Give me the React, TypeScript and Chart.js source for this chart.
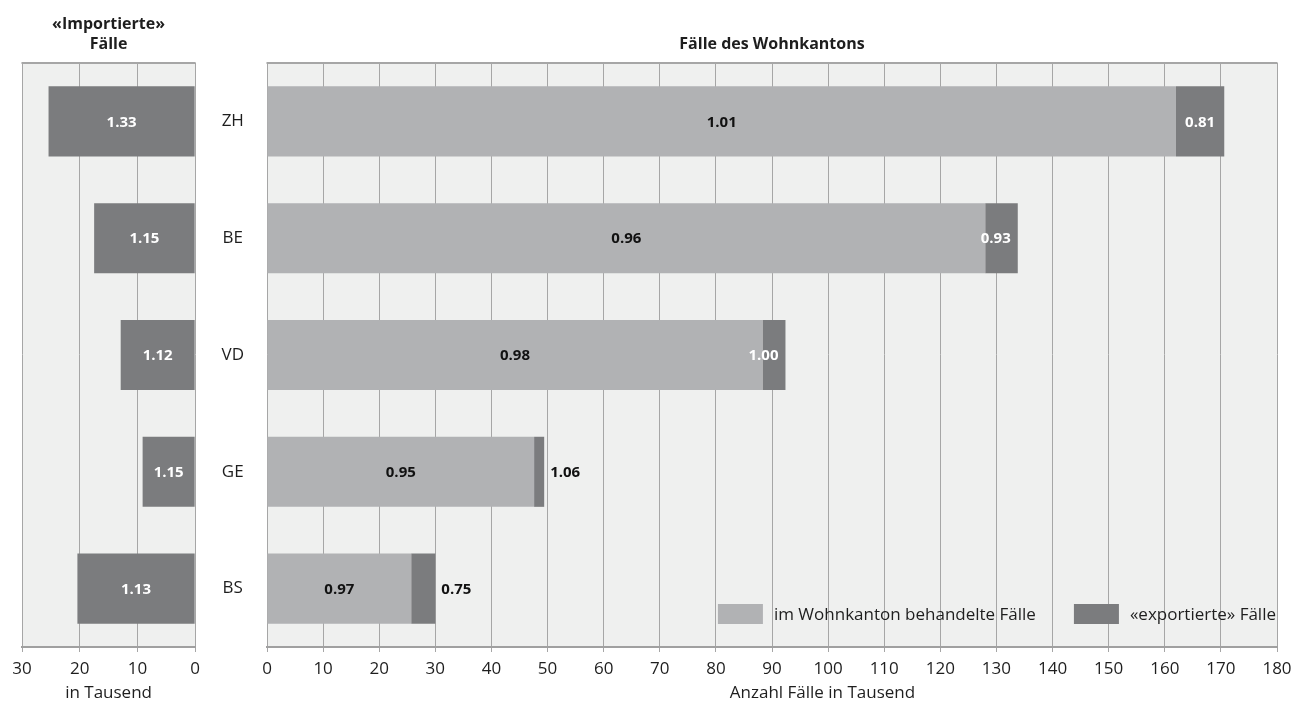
import React, { useEffect, useRef } from 'react';
import { Chart, registerables } from 'chart.js';

Chart.register(...registerables);

// ---- Data ----
const categories = ['ZH', 'BE', 'VD', 'GE', 'BS'];
const importedCases = [25.4, 17.5, 12.9, 9.1, 20.4];
const importedRatios = ['1.33', '1.15', '1.12', '1.15', '1.13'];
const treatedInCanton = [162.0, 128.0, 88.3, 47.6, 25.7];
const treatedRatios = ['1.01', '0.96', '0.98', '0.95', '0.97'];
const exportedCases = [8.6, 5.8, 4.1, 1.8, 4.3];
const exportedRatios = ['0.81', '0.93', '1.00', '1.06', '0.75'];
const seriesLabels = ['im Wohnkanton behandelte Fälle', '«exportierte» Fälle'];
const leftTitle = ['«Importierte»', 'Fälle'];
const rightTitle = 'Fälle des Wohnkantons';
const leftAxisTitle = 'in Tausend';
const rightAxisTitle = 'Anzahl Fälle in Tausend';
const rightAxisTitleAt = 99; // value under which the axis title is centred
const leftMax = 30;
const rightMax = 180;
const tickStep = 10;

// ---- Styles ----
const FONT = '"Open Sans", "DejaVu Sans", sans-serif';
const TEXT = '#1e1e1e';
const BG = '#eff0ef';
const GRID = '#a6a6a6';
const AXIS = '#a0a0a0';
const LIGHT = '#b1b2b4';
const DARK = '#7b7c7e';
const FS = 17;

const framePlugin = {
  id: 'frame',
  beforeDraw(chart: any) {
    const { ctx, chartArea: a } = chart;
    ctx.save();
    ctx.fillStyle = BG;
    ctx.fillRect(a.left, a.top, a.right - a.left, a.bottom - a.top);
    ctx.restore();
  },
  beforeDatasetsDraw(chart: any) {
    const { ctx, chartArea: a } = chart;
    ctx.save();
    ctx.strokeStyle = GRID;
    ctx.lineWidth = 2;
    ctx.beginPath();
    ctx.moveTo(a.left - 0.5, a.top);
    ctx.lineTo(a.right + 0.5, a.top);
    ctx.stroke();
    ctx.restore();
  },
};

const leftLabelsPlugin = {
  id: 'leftLabels',
  afterDatasetsDraw(chart: any) {
    const ctx = chart.ctx;
    ctx.save();
    ctx.font = `bold 15px ${FONT}`;
    ctx.textBaseline = 'middle';
    ctx.textAlign = 'center';
    ctx.fillStyle = '#ffffff';
    chart.getDatasetMeta(0).data.forEach((bar: any, i: number) => {
      const { x, base, y } = bar.getProps(['x', 'base', 'y'], true);
      ctx.fillText(importedRatios[i], (x + base) / 2, y + 1);
    });
    ctx.restore();
  },
};

const rightLabelsPlugin = {
  id: 'rightLabels',
  afterDatasetsDraw(chart: any) {
    const ctx = chart.ctx;
    ctx.save();
    ctx.font = `bold 15px ${FONT}`;
    ctx.textBaseline = 'middle';
    chart.getDatasetMeta(0).data.forEach((bar: any, i: number) => {
      const { x, base, y } = bar.getProps(['x', 'base', 'y'], true);
      ctx.fillStyle = '#111111';
      ctx.textAlign = 'center';
      ctx.fillText(treatedRatios[i], (x + base) / 2, y + 1);
    });
    chart.getDatasetMeta(1).data.forEach((bar: any, i: number) => {
      const { x, base, y } = bar.getProps(['x', 'base', 'y'], true);
      const total = treatedInCanton[i] + exportedCases[i];
      const text = exportedRatios[i];
      const tw = ctx.measureText(text).width;
      if (total >= 60) {
        ctx.fillStyle = '#ffffff';
        ctx.textAlign = 'center';
        ctx.fillText(text, Math.min((x + base) / 2, x - tw / 2 - 7), y + 1);
      } else {
        ctx.fillStyle = '#111111';
        ctx.textAlign = 'left';
        ctx.fillText(text, x + 6, y + 1);
      }
    });
    // legend inside the chart area, bottom right
    const a = chart.chartArea;
    ctx.font = `${FS}px ${FONT}`;
    const cy = a.bottom - 33;
    let xr = a.right - 1;
    const dsets = chart.data.datasets;
    for (let i = dsets.length - 1; i >= 0; i--) {
      const label = dsets[i].label;
      const tw = ctx.measureText(label).width;
      ctx.fillStyle = TEXT;
      ctx.textAlign = 'left';
      ctx.fillText(label, xr - tw, cy + 1);
      const bx = xr - tw - 11 - 45;
      ctx.fillStyle = dsets[i].backgroundColor;
      ctx.fillRect(bx, cy - 10, 45, 20);
      xr = bx - 38;
    }
    ctx.restore();
  },
  afterDraw(chart: any) {
    const ctx = chart.ctx;
    const xs = chart.scales.x;
    ctx.save();
    ctx.font = `${FS}px ${FONT}`;
    ctx.fillStyle = TEXT;
    ctx.textAlign = 'center';
    ctx.textBaseline = 'middle';
    ctx.fillText(rightAxisTitle, xs.getPixelForValue(rightAxisTitleAt), xs.bottom - 4 - (FS * 1.2) / 2);
    ctx.restore();
  },
};

const tickFont = { family: FONT, size: FS };
const titleFont = { family: FONT, size: 16, weight: 'bold' as const, lineHeight: '20px' };

export default function App() {
  const leftRef = useRef<HTMLCanvasElement>(null);
  const rightRef = useRef<HTMLCanvasElement>(null);

  useEffect(() => {
    const left = new Chart(leftRef.current as HTMLCanvasElement, {
      type: 'bar',
      data: {
        labels: categories,
        datasets: [
          {
            label: '«importierte» Fälle',
            data: importedCases,
            backgroundColor: DARK,
            barPercentage: 0.6,
            categoryPercentage: 1,
          },
        ],
      },
      options: {
        indexAxis: 'y',
        animation: false,
        responsive: false,
        maintainAspectRatio: false,
        layout: { padding: { left: 22, right: 5, top: 0, bottom: 0 } },
        plugins: {
          legend: { display: false },
          tooltip: { enabled: false },
          title: {
            display: true,
            fullSize: false,
            text: leftTitle,
            color: TEXT,
            font: titleFont,
            padding: { top: 14, bottom: 9 },
          },
        },
        scales: {
          x: {
            reverse: true,
            min: 0,
            max: leftMax,
            ticks: { stepSize: tickStep, color: TEXT, font: tickFont, padding: 7 },
            grid: { color: GRID, lineWidth: 1, tickLength: 5, drawTicks: true },
            border: { color: AXIS, width: 2 },
            title: { display: true, text: leftAxisTitle, color: TEXT, font: tickFont, padding: { top: 0, bottom: 4 } },
            afterFit: (s: any) => {
              s.height = 60;
            },
          },
          y: { display: false, grid: { display: false } },
        },
      } as any,
      plugins: [framePlugin, leftLabelsPlugin],
    });

    const right = new Chart(rightRef.current as HTMLCanvasElement, {
      type: 'bar',
      data: {
        labels: categories,
        datasets: [
          {
            label: seriesLabels[0],
            data: treatedInCanton,
            backgroundColor: LIGHT,
            barPercentage: 0.6,
            categoryPercentage: 1,
          },
          {
            label: seriesLabels[1],
            data: exportedCases,
            backgroundColor: DARK,
            barPercentage: 0.6,
            categoryPercentage: 1,
          },
        ],
      },
      options: {
        indexAxis: 'y',
        animation: false,
        responsive: false,
        maintainAspectRatio: false,
        layout: { padding: { left: 0, right: 31, top: 0, bottom: 0 } },
        plugins: {
          legend: { display: false },
          tooltip: { enabled: false },
          title: {
            display: true,
            fullSize: false,
            text: rightTitle,
            color: TEXT,
            font: titleFont,
            padding: { top: 34, bottom: 9 },
          },
        },
        scales: {
          x: {
            stacked: true,
            min: 0,
            max: rightMax,
            ticks: { stepSize: tickStep, color: TEXT, font: tickFont, padding: 7 },
            grid: { color: GRID, lineWidth: 1, tickLength: 5, drawTicks: true },
            border: { color: AXIS, width: 2 },
            title: { display: false, text: rightAxisTitle },
            afterFit: (s: any) => {
              s.height = 60;
            },
          },
          y: {
            stacked: true,
            grid: { display: false, drawTicks: false },
            border: { display: false },
            ticks: { crossAlign: 'center', padding: 23, color: TEXT, font: tickFont },
            afterFit: (s: any) => {
              s.width = 67;
            },
          },
        },
      } as any,
      plugins: [framePlugin, rightLabelsPlugin],
    });

    return () => {
      left.destroy();
      right.destroy();
    };
  }, []);

  return (
    <div style={{ position: 'absolute', left: 0, top: 0, width: 1308, height: 707, background: '#ffffff' }}>
      <canvas
        ref={leftRef}
        width={207}
        height={707}
        style={{ position: 'absolute', left: 0, top: 0, width: 207, height: 707 }}
      />
      <canvas
        ref={rightRef}
        width={1108}
        height={707}
        style={{ position: 'absolute', left: 200, top: 0, width: 1108, height: 707 }}
      />
    </div>
  );
}
